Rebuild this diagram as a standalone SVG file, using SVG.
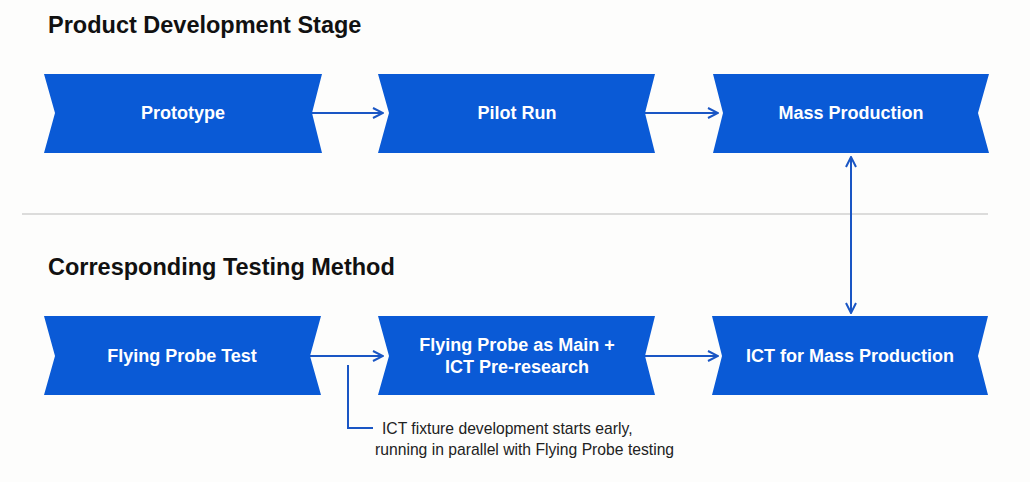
<svg xmlns="http://www.w3.org/2000/svg" width="1030" height="482" viewBox="0 0 1030 482">
<style>
.box{fill:#0a5ad6;}
.lbl{font-family:"Liberation Sans",Arial,sans-serif;font-weight:bold;font-size:18px;fill:#fff;text-anchor:middle;dominant-baseline:central;}
.hdr{font-family:"Liberation Sans",Arial,sans-serif;font-weight:bold;font-size:23.5px;fill:#111;}
.note{font-family:"Liberation Sans",Arial,sans-serif;font-size:15.7px;fill:#222;}
.conn{stroke:#1a56c4;stroke-width:2;fill:none;}
</style>
<defs>
<marker id="ah" viewBox="0 0 12 12" refX="11" refY="6" markerWidth="12" markerHeight="12" markerUnits="userSpaceOnUse" orient="auto-start-reverse">
<path d="M1,1 L11,6 L1,11" fill="none" stroke="#1a56c4" stroke-width="2"/>
</marker>
</defs>
<rect width="1030" height="482" fill="#fdfdfc"/>
<text class="hdr" x="48" y="33">Product Development Stage</text>
<line x1="22" y1="214" x2="988" y2="214" stroke="#d0d0d0" stroke-width="1.5"/>
<text class="hdr" x="48" y="275">Corresponding Testing Method</text>
<g id="connectors">
<line class="conn" x1="312" y1="113" x2="383" y2="113" marker-end="url(#ah)"/>
<line class="conn" x1="645" y1="113" x2="718" y2="113" marker-end="url(#ah)"/>
<line class="conn" x1="310" y1="356" x2="383" y2="356" marker-end="url(#ah)"/>
<line class="conn" x1="645" y1="356" x2="718" y2="356" marker-end="url(#ah)"/>
<line class="conn" x1="851" y1="157" x2="851" y2="313" marker-start="url(#ah)" marker-end="url(#ah)"/>
<polyline class="conn" points="348,365 348,428 373,428" stroke-width="1.5"/>
</g>
<g id="prototype">
<polygon class="box" points="44,74 322,74 312,113 322,153 44,153 55,113"/>
<text class="lbl" x="183" y="113">Prototype</text>
</g>
<g id="pilot-run">
<polygon class="box" points="378,74 655,74 645,113 655,153 378,153 389,113"/>
<text class="lbl" x="517" y="113">Pilot Run</text>
</g>
<g id="mass-production">
<polygon class="box" points="713,74 989,74 978,113 989,153 713,153 723,113"/>
<text class="lbl" x="851" y="113">Mass Production</text>
</g>
<g id="flying-probe-test">
<polygon class="box" points="44,316 321,316 310,356 321,395 44,395 55,356"/>
<text class="lbl" x="182" y="356">Flying Probe Test</text>
</g>
<g id="flying-probe-main">
<polygon class="box" points="378,316 655,316 645,356 655,395 378,395 389,356"/>
<text class="lbl" x="517" y="345">Flying Probe as Main +</text>
<text class="lbl" x="517" y="367">ICT Pre-research</text>
</g>
<g id="ict-mass">
<polygon class="box" points="712,316 988,316 978,356 988,395 712,395 722,356"/>
<text class="lbl" x="850" y="356">ICT for Mass Production</text>
</g>
<g id="note">
<text class="note" x="382" y="434">ICT fixture development starts early,</text>
<text class="note" x="375" y="455">running in parallel with Flying Probe testing</text>
</g>
</svg>
